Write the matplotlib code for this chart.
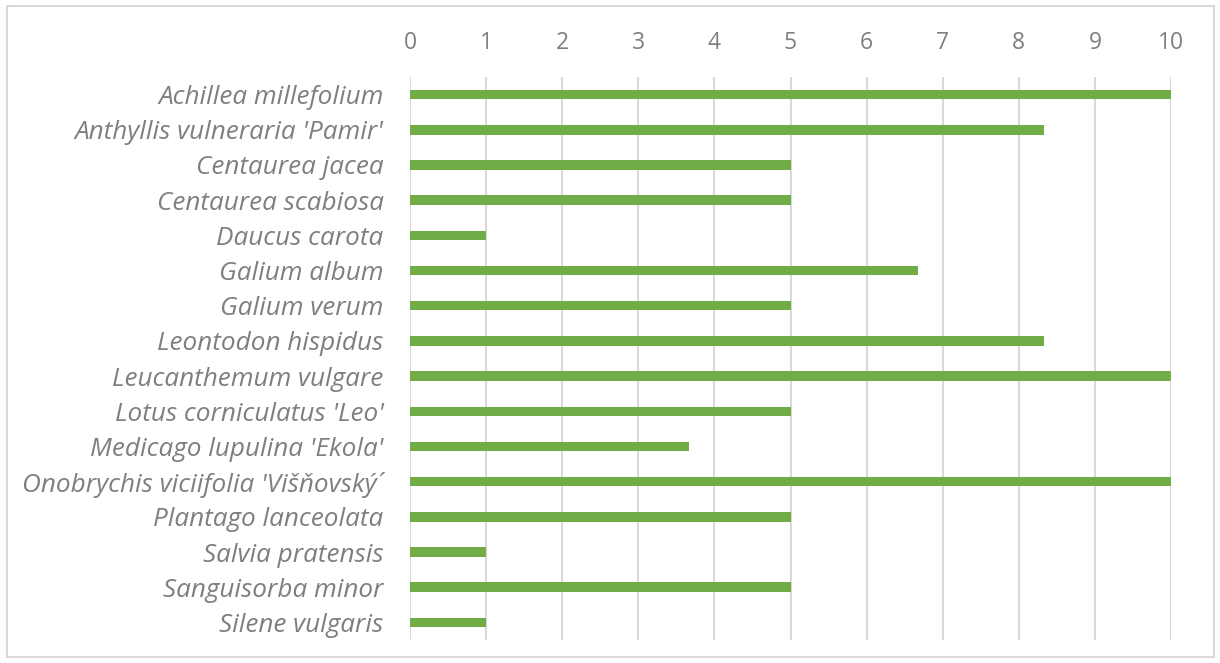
import matplotlib
matplotlib.use("Agg")
import matplotlib.pyplot as plt
from matplotlib.patches import Rectangle

species = [
    "Achillea millefolium",
    "Anthyllis vulneraria 'Pamir'",
    "Centaurea jacea",
    "Centaurea scabiosa",
    "Daucus carota",
    "Galium album",
    "Galium verum",
    "Leontodon hispidus",
    "Leucanthemum vulgare",
    "Lotus corniculatus 'Leo'",
    "Medicago lupulina 'Ekola'",
    "Onobrychis viciifolia 'Višňovský´",
    "Plantago lanceolata",
    "Salvia pratensis",
    "Sanguisorba minor",
    "Silene vulgaris",
]
values = [10, 8.33, 5, 5, 1, 6.67, 5, 8.33, 10, 5, 3.67, 10, 5, 1, 5, 1]
ticks = list(range(0, 11))

W, H = 1220, 663
fig = plt.figure(figsize=(W / 100, H / 100), dpi=100)
fig.patches.append(Rectangle((7 / W, 6 / H), (1214 - 7) / W, (657 - 6) / H,
                             transform=fig.transFigure, fill=False,
                             edgecolor="#d9d9d9", linewidth=1.5))

left, right = 410 / W, 1171 / W
top, bottom = 1 - 77 / H, 1 - 640 / H
ax = fig.add_axes([left, bottom, right - left, top - bottom])

y = list(range(len(species)))
ax.barh(y, values, height=0.27, color="#70AD47", zorder=3)
ax.set_xlim(0, 10)
ax.set_ylim(len(species) - 0.5, -0.5)
ax.set_xticks(ticks)
ax.xaxis.tick_top()
ax.tick_params(axis="x", length=0, pad=16, labelsize=16.5, labelcolor="#7f7f7f")
ax.tick_params(axis="y", length=0, pad=19)
ax.set_yticks(y)
ax.set_yticklabels(species, fontsize=18.8, style="italic", color="#7f7f7f",
                   family=["Open Sans", "DejaVu Sans"])
for lbl in ax.get_xticklabels():
    lbl.set_family(["Open Sans", "DejaVu Sans"])
ax.grid(axis="x", color="#d9d9d9", linewidth=1.5, zorder=0)
ax.grid(axis="y", visible=False)
for s in ax.spines.values():
    s.set_visible(False)

fig.savefig("out.png", dpi=100)
